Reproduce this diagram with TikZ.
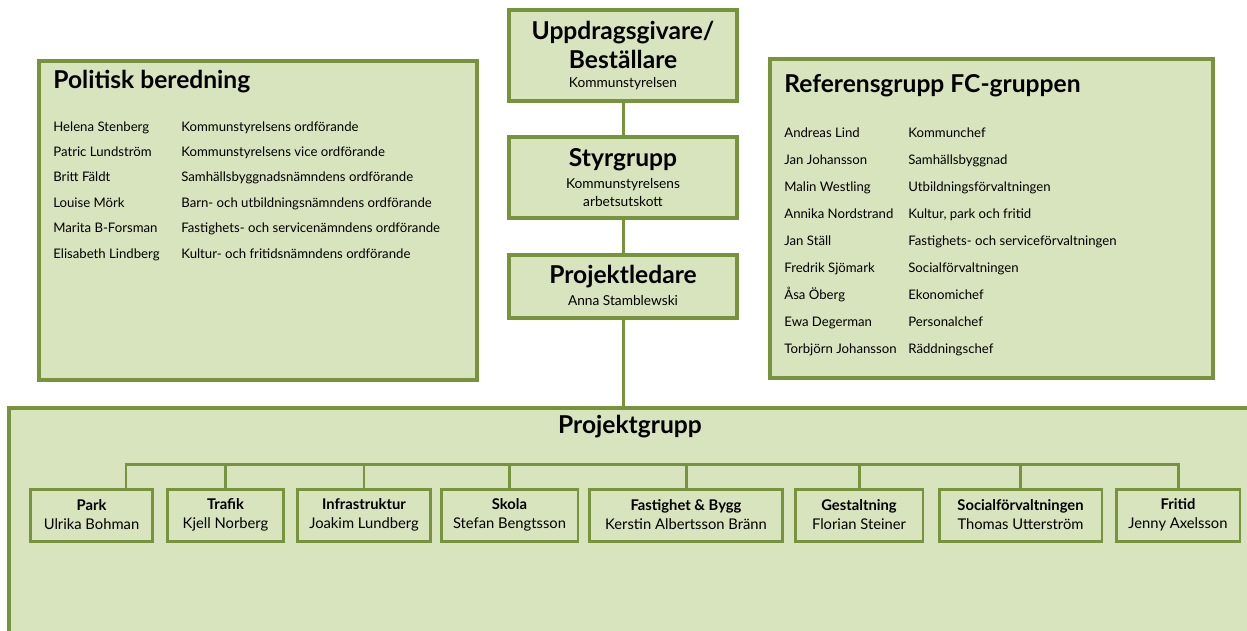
\documentclass[tikz,border=0pt]{standalone}
\usepackage{fontspec}
\setmainfont{Lato}
\usetikzlibrary{positioning}
\definecolor{lightgreen}{HTML}{D7E4BD}
\definecolor{green}{HTML}{77933C}

\begin{document}
\begin{tikzpicture}[x=0.02cm, y=-0.02cm,
    box/.style={draw=green, line width=2pt, fill=lightgreen, inner sep=0pt},
    unit/.style={box, line width=1.7pt, minimum height=1.04cm, align=center,
                 font=\fontsize{8.4}{10.8}\selectfont},
    head/.style={font=\fontsize{14}{17}\selectfont\bfseries, align=center, inner sep=0pt},
    sub/.style={font=\fontsize{7.8}{10.8}\selectfont, align=center, inner sep=0pt},
    row/.style={font=\fontsize{7.5}{9}\selectfont, anchor=base west, inner sep=0pt},
    link/.style={draw=green, line width=1.7pt}]
      \clip (0,0) rectangle (1247,630);
      \fill[white] (0,0) rectangle (1247,630);
      % ledning
      \node [box, minimum width=4.56cm, minimum height=1.82cm] (upp) at (623,55.5) {};
      \node [head] (upptitle) at (623,45) {Uppdragsgivare/\\Beställare};
      \node [sub] (uppsub) at (623,84) {Kommunstyrelsen};
      \node [box, minimum width=4.56cm, minimum height=1.62cm] (sty) at (623,177.5) {};
      \node [head] (stytitle) at (623,160) {Styrgrupp};
      \node [sub] (stysub) at (623,192.5) {Kommunstyrelsens\\arbetsutskott};
      \node [box, minimum width=4.56cm, minimum height=1.26cm] (pl) at (623,286.5) {};
      \node [head] (pltitle) at (623,277) {Projektledare};
      \node [sub] (plsub) at (623,300) {Anna Stamblewski};
      % politisk beredning
      \node [box, minimum width=8.76cm, minimum height=6.38cm] (pol) at (258,220.5) {};
      \node [head, anchor=base west] (poltitle) at (53,88) {Politisk beredning};
      \foreach \name/\role [count=\i] in {Helena Stenberg/Kommunstyrelsens ordförande,
          Patric Lundström/Kommunstyrelsens vice ordförande,
          Britt Fäldt/Samhällsbyggnadsnämndens ordförande,
          Louise Mörk/Barn- och utbildningsnämndens ordförande,
          Marita B-Forsman/Fastighets- och servicenämndens ordförande,
          Elisabeth Lindberg/Kultur- och fritidsnämndens ordförande}{
        \node [row] (poln\i) at (53,{131+25.4*(\i-1)}) {\name};
        \node [row] (polr\i) at (181,{131+25.4*(\i-1)}) {\role};
      }
      % referensgrupp
      \node [box, minimum width=8.86cm, minimum height=6.38cm] (ref) at (991.5,218.5) {};
      \node [head, anchor=base west] (reftitle) at (784,92) {Referensgrupp FC-gruppen};
      \foreach \name/\role [count=\i] in {Andreas Lind/Kommunchef,
          Jan Johansson/Samhällsbyggnad,
          Malin Westling/Utbildningsförvaltningen,
          Annika Nordstrand/{Kultur, park och fritid},
          Jan Ställ/Fastighets- och serviceförvaltningen,
          Fredrik Sjömark/Socialförvaltningen,
          Åsa Öberg/Ekonomichef,
          Ewa Degerman/Personalchef,
          Torbjörn Johansson/Räddningschef}{
        \node [row] (refn\i) at (784,{137+27.1*(\i-1)}) {\name};
        \node [row] (refr\i) at (908,{137+27.1*(\i-1)}) {\role};
      }
      % projektgrupp
      \node [box, minimum width=25.02cm, minimum height=5.04cm] (grp) at (634.5,534) {};
      \node [head] (grptitle) at (630,427) {Projektgrupp};
      \node [unit, minimum width=2.46cm] (park) at (91.5,515) {\textbf{Park}\\Ulrika Bohman};
      \node [unit, minimum width=2.34cm] (trafik) at (225.5,515) {\textbf{Trafik}\\Kjell Norberg};
      \node [unit, minimum width=2.68cm] (infra) at (364,515) {\textbf{Infrastruktur}\\Joakim Lundberg};
      \node [unit, minimum width=2.74cm] (skola) at (509.5,515) {\textbf{Skola}\\Stefan Bengtsson};
      \node [unit, minimum width=3.88cm] (fast) at (686,515) {\textbf{Fastighet \& Bygg}\\Kerstin Albertsson Bränn};
      \node [unit, minimum width=2.56cm] (gest) at (859,515) {\textbf{Gestaltning}\\Florian Steiner};
      \node [unit, minimum width=3.26cm] (soc) at (1020.5,515) {\textbf{Socialförvaltningen}\\Thomas Utterström};
      \node [unit, minimum width=2.48cm] (fritid) at (1178,515) {\textbf{Fritid}\\Jenny Axelsson};
      % linjer
      \coordinate (bus) at (0,464);
      \coordinate (parkdrop) at ([xshift=0.69cm]park.north);
      \draw [link] (upp) -- (sty);
      \draw [link] (sty) -- (pl);
      \draw [link] (pl) -- (pl.south |- grp.north);
      \draw [link] (parkdrop) -- (parkdrop |- bus) -- (fritid.north |- bus) -- (fritid.north);
      \foreach \b in {trafik, infra, skola, fast, gest, soc}
        \draw [link] (\b.north) -- (\b.north |- bus);
\end{tikzpicture}
\end{document}
